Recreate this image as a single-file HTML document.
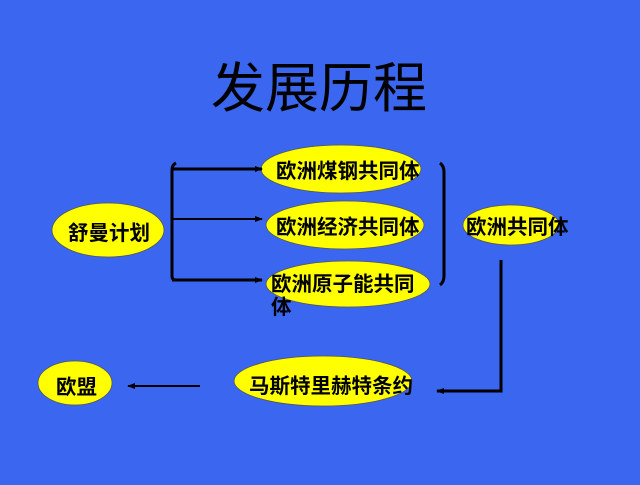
<!DOCTYPE html>
<html><head><meta charset="utf-8"><style>
body{margin:0;width:640px;height:480px;overflow:hidden;background:#3a66f0}
svg text{font-family:"Liberation Sans","Noto Sans CJK SC",sans-serif;font-weight:bold;fill:#000}
</style></head><body>
<svg width="640" height="480" xmlns="http://www.w3.org/2000/svg">
<defs><marker id="a" markerWidth="8" markerHeight="8" refX="7" refY="4" orient="auto" markerUnits="userSpaceOnUse"><path d="M0,1 L8,4 L0,7z" fill="#000"/></marker></defs>
<text x="319" y="107" font-size="54" text-anchor="middle" style="font-weight:normal">发展历程</text>
<g fill="#ffff00" stroke="#555" stroke-width="0.8">
<ellipse cx="108" cy="230" rx="56" ry="27"/>
<ellipse cx="341" cy="169" rx="80" ry="24"/>
<ellipse cx="345" cy="225" rx="79" ry="24"/>
<ellipse cx="348" cy="284" rx="82" ry="23"/>
<ellipse cx="511" cy="225" rx="48" ry="20"/>
<ellipse cx="323" cy="381" rx="89" ry="25"/>
<ellipse cx="75" cy="383" rx="37" ry="22"/>
</g>
<g stroke="#000" fill="none" stroke-width="3">
<path d="M176,163 Q172,165 172,170 L172,276 Q172,280 176,280"/>
<path d="M172,169 L262,169" marker-end="url(#a)"/>
<path d="M172,280 L262,280" marker-end="url(#a)"/>
<path d="M440,163 Q444,166 444,172 L444,276 Q444,282 440,285"/>
<path d="M501,260 L501,391 L437,391" marker-end="url(#a)"/>
</g>
<g stroke="#000" fill="none" stroke-width="2">
<path d="M172,219 L262,219" marker-end="url(#a)"/>
<path d="M200,386 L128,386" marker-end="url(#a)"/>
</g>
<g font-size="20.5">
<text x="68" y="240">舒曼计划</text>
<text x="276" y="178">欧洲煤钢共同体</text>
<text x="276" y="234">欧洲经济共同体</text>
<text x="271" y="291">欧洲原子能共同</text>
<text x="271" y="314">体</text>
<text x="466" y="234">欧洲共同体</text>
<text x="249" y="393">马斯特里赫特条约</text>
<text x="56" y="394">欧盟</text>
</g>
</svg>
</body></html>
